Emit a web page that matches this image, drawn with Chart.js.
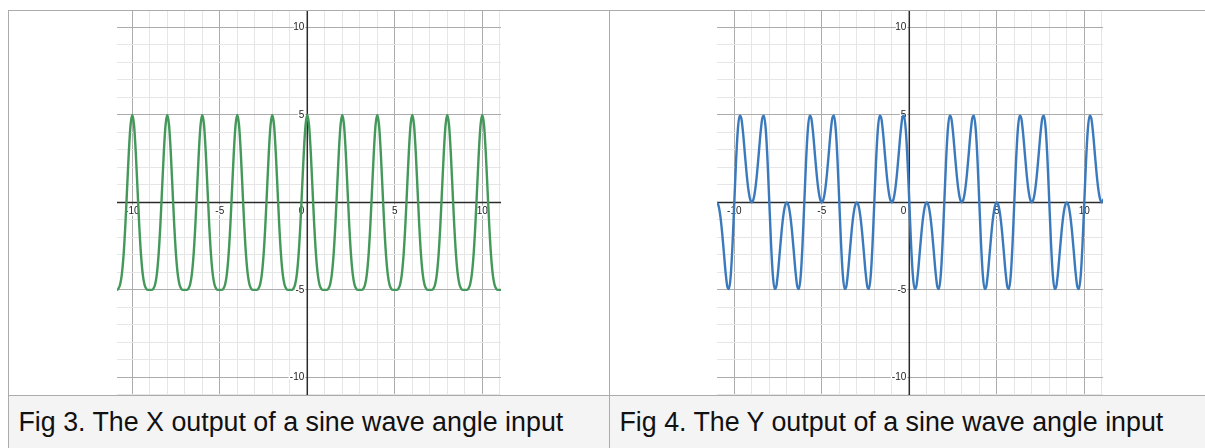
<!DOCTYPE html>
<html>
<head>
<meta charset="utf-8">
<script src="https://cdn.jsdelivr.net/npm/chart.js@4.4.1/dist/chart.umd.min.js"></script>
<style>
  html, body { margin: 0; padding: 0; background: #fff; }
  body { width: 1205px; height: 448px; position: relative; overflow: hidden; }
  .rule { position: absolute; background: #ababab; }
  .caption-bg { position: absolute; top: 396px; height: 52px; background: #f4f4f4; }
  .caption { position: absolute; top: 409px; font: 26.8px/1 "Liberation Sans", Arial, sans-serif; color: #111; white-space: nowrap; }
  canvas { position: absolute; top: 11px; }
</style>
</head>
<body>
<div class="caption-bg" style="left:9px;width:600px"></div>
<div class="caption-bg" style="left:610px;width:595px"></div>
<div class="rule" style="left:8px;top:10px;width:1197px;height:1px"></div>
<div class="rule" style="left:8px;top:395px;width:1197px;height:1px"></div>
<div class="rule" style="left:8px;top:10px;width:1px;height:438px"></div>
<div class="rule" style="left:609px;top:10px;width:1px;height:438px"></div>

<canvas id="figX" width="384" height="384" style="left:117px"></canvas>
<canvas id="figY" width="386" height="384" style="left:717px"></canvas>

<div class="caption" id="capX" style="left:18.5px"></div>
<div class="caption" id="capY" style="left:619.5px"></div>

<script>
// sample positions along the x axis (read every 0.1 unit)
const xValues = [
  -11,-10.9,-10.8,-10.7,-10.6,-10.5,-10.4,-10.3,-10.2,-10.1,
  -10,-9.9,-9.8,-9.7,-9.6,-9.5,-9.4,-9.3,-9.2,-9.1,
  -9,-8.9,-8.8,-8.7,-8.6,-8.5,-8.4,-8.3,-8.2,-8.1,
  -8,-7.9,-7.8,-7.7,-7.6,-7.5,-7.4,-7.3,-7.2,-7.1,
  -7,-6.9,-6.8,-6.7,-6.6,-6.5,-6.4,-6.3,-6.2,-6.1,
  -6,-5.9,-5.8,-5.7,-5.6,-5.5,-5.4,-5.3,-5.2,-5.1,
  -5,-4.9,-4.8,-4.7,-4.6,-4.5,-4.4,-4.3,-4.2,-4.1,
  -4,-3.9,-3.8,-3.7,-3.6,-3.5,-3.4,-3.3,-3.2,-3.1,
  -3,-2.9,-2.8,-2.7,-2.6,-2.5,-2.4,-2.3,-2.2,-2.1,
  -2,-1.9,-1.8,-1.7,-1.6,-1.5,-1.4,-1.3,-1.2,-1.1,
  -1,-0.9,-0.8,-0.7,-0.6,-0.5,-0.4,-0.3,-0.2,-0.1,
  0,0.1,0.2,0.3,0.4,0.5,0.6,0.7,0.8,0.9,
  1,1.1,1.2,1.3,1.4,1.5,1.6,1.7,1.8,1.9,
  2,2.1,2.2,2.3,2.4,2.5,2.6,2.7,2.8,2.9,
  3,3.1,3.2,3.3,3.4,3.5,3.6,3.7,3.8,3.9,
  4,4.1,4.2,4.3,4.4,4.5,4.6,4.7,4.8,4.9,
  5,5.1,5.2,5.3,5.4,5.5,5.6,5.7,5.8,5.9,
  6,6.1,6.2,6.3,6.4,6.5,6.6,6.7,6.8,6.9,
  7,7.1,7.2,7.3,7.4,7.5,7.6,7.7,7.8,7.9,
  8,8.1,8.2,8.3,8.4,8.5,8.6,8.7,8.8,8.9,
  9,9.1,9.2,9.3,9.4,9.5,9.6,9.7,9.8,9.9,
  10,10.1,10.2,10.3,10.4,10.5,10.6,10.7,10.8,10.9,
  11,11.1
];

// Fig 3 - X output (green)
const xOutput = [
  -5,-5,-4.94,-4.71,-4.13,-3.03,-1.36,0.72,2.83,4.41,
  5,4.41,2.83,0.72,-1.36,-3.03,-4.13,-4.71,-4.94,-5,
  -5,-5,-4.94,-4.71,-4.13,-3.03,-1.36,0.72,2.83,4.41,
  5,4.41,2.83,0.72,-1.36,-3.03,-4.13,-4.71,-4.94,-5,
  -5,-5,-4.94,-4.71,-4.13,-3.03,-1.36,0.72,2.83,4.41,
  5,4.41,2.83,0.72,-1.36,-3.03,-4.13,-4.71,-4.94,-5,
  -5,-5,-4.94,-4.71,-4.13,-3.03,-1.36,0.72,2.83,4.41,
  5,4.41,2.83,0.72,-1.36,-3.03,-4.13,-4.71,-4.94,-5,
  -5,-5,-4.94,-4.71,-4.13,-3.03,-1.36,0.72,2.83,4.41,
  5,4.41,2.83,0.72,-1.36,-3.03,-4.13,-4.71,-4.94,-5,
  -5,-5,-4.94,-4.71,-4.13,-3.03,-1.36,0.72,2.83,4.41,
  5,4.41,2.83,0.72,-1.36,-3.03,-4.13,-4.71,-4.94,-5,
  -5,-5,-4.94,-4.71,-4.13,-3.03,-1.36,0.72,2.83,4.41,
  5,4.41,2.83,0.72,-1.36,-3.03,-4.13,-4.71,-4.94,-5,
  -5,-5,-4.94,-4.71,-4.13,-3.03,-1.36,0.72,2.83,4.41,
  5,4.41,2.83,0.72,-1.36,-3.03,-4.13,-4.71,-4.94,-5,
  -5,-5,-4.94,-4.71,-4.13,-3.03,-1.36,0.72,2.83,4.41,
  5,4.41,2.83,0.72,-1.36,-3.03,-4.13,-4.71,-4.94,-5,
  -5,-5,-4.94,-4.71,-4.13,-3.03,-1.36,0.72,2.83,4.41,
  5,4.41,2.83,0.72,-1.36,-3.03,-4.13,-4.71,-4.94,-5,
  -5,-5,-4.94,-4.71,-4.13,-3.03,-1.36,0.72,2.83,4.41,
  5,4.41,2.83,0.72,-1.36,-3.03,-4.13,-4.71,-4.94,-5,
  -5,-5
];

// Fig 4 - Y output (blue)
const yOutput = [
  0,-0.19,-0.77,-1.68,-2.82,-3.98,-4.81,-4.95,-4.13,-2.36,
  0,2.36,4.13,4.95,4.81,3.98,2.82,1.68,0.77,0.19,
  0,0.19,0.77,1.68,2.82,3.98,4.81,4.95,4.13,2.36,
  0,-2.36,-4.13,-4.95,-4.81,-3.98,-2.82,-1.68,-0.77,-0.19,
  0,-0.19,-0.77,-1.68,-2.82,-3.98,-4.81,-4.95,-4.13,-2.36,
  0,2.36,4.13,4.95,4.81,3.98,2.82,1.68,0.77,0.19,
  0,0.19,0.77,1.68,2.82,3.98,4.81,4.95,4.13,2.36,
  0,-2.36,-4.13,-4.95,-4.81,-3.98,-2.82,-1.68,-0.77,-0.19,
  0,-0.19,-0.77,-1.68,-2.82,-3.98,-4.81,-4.95,-4.13,-2.36,
  0,2.36,4.13,4.95,4.81,3.98,2.82,1.68,0.77,0.19,
  0,0.19,0.77,1.68,2.82,3.98,4.81,4.95,4.13,2.36,
  0,-2.36,-4.13,-4.95,-4.81,-3.98,-2.82,-1.68,-0.77,-0.19,
  0,-0.19,-0.77,-1.68,-2.82,-3.98,-4.81,-4.95,-4.13,-2.36,
  0,2.36,4.13,4.95,4.81,3.98,2.82,1.68,0.77,0.19,
  0,0.19,0.77,1.68,2.82,3.98,4.81,4.95,4.13,2.36,
  0,-2.36,-4.13,-4.95,-4.81,-3.98,-2.82,-1.68,-0.77,-0.19,
  0,-0.19,-0.77,-1.68,-2.82,-3.98,-4.81,-4.95,-4.13,-2.36,
  0,2.36,4.13,4.95,4.81,3.98,2.82,1.68,0.77,0.19,
  0,0.19,0.77,1.68,2.82,3.98,4.81,4.95,4.13,2.36,
  0,-2.36,-4.13,-4.95,-4.81,-3.98,-2.82,-1.68,-0.77,-0.19,
  0,-0.19,-0.77,-1.68,-2.82,-3.98,-4.81,-4.95,-4.13,-2.36,
  0,2.36,4.13,4.95,4.81,3.98,2.82,1.68,0.77,0.19,
  0,0.19
];

const xTickLabels = [-10, -5, 5, 10];
const yTickLabels = [10, 5, -5, -10];
const captions = [
  "Fig 3. The X output of a sine wave angle input",
  "Fig 4. The Y output of a sine wave angle input"
];

document.getElementById("capX").textContent = captions[0];
document.getElementById("capY").textContent = captions[1];

// axis lines + numbers drawn next to the axes (desmos style)
const axesPlugin = {
  id: "axesAndNumbers",
  beforeDatasetsDraw(chart) {
    const { ctx, chartArea: area, scales: { x, y } } = chart;
    const x0 = x.getPixelForValue(0);
    const y0 = y.getPixelForValue(0);
    ctx.save();
    ctx.strokeStyle = "#2b2b2b";
    ctx.lineWidth = 1.5;
    ctx.beginPath();
    ctx.moveTo(area.left, y0);
    ctx.lineTo(area.right, y0);
    ctx.moveTo(x0, area.top);
    ctx.lineTo(x0, area.bottom);
    ctx.stroke();

    ctx.font = '10px "Liberation Sans", Arial, sans-serif';
    ctx.lineJoin = "round";
    ctx.lineWidth = 3;
    ctx.strokeStyle = "#fff";
    ctx.fillStyle = "#222";
    ctx.textBaseline = "middle";

    const label = (txt, px, py) => {
      ctx.strokeText(txt, px, py);
      ctx.fillText(txt, px, py);
    };

    ctx.textAlign = "center";
    xTickLabels.forEach(v => label(String(v), x.getPixelForValue(v), y0 + 8.5));
    ctx.textAlign = "right";
    label("0", x0 - 3, y0 + 8.5);
    yTickLabels.forEach(v => label(String(v), x0 - 3, y.getPixelForValue(v)));
    ctx.restore();
  }
};

const gridStyle = {
  drawTicks: false,
  lineWidth: 1,
  color: c => {
    const v = c.tick.value;
    if (v === 0) return "rgba(0,0,0,0)";
    return Math.abs(v) % 5 === 0 ? "#acacac" : "#e6e6e6";
  }
};

function makeGraph(id, values, color, xMin, xMax) {
  new Chart(document.getElementById(id), {
    type: "line",
    data: {
      datasets: [{
        data: xValues.map((x, i) => ({ x: x, y: values[i] })),
        borderColor: color,
        borderWidth: 2.4,
        pointRadius: 0,
        fill: false,
        cubicInterpolationMode: "monotone"
      }]
    },
    options: {
      responsive: false,
      animation: false,
      events: [],
      devicePixelRatio: 1,
      layout: { padding: 0 },
      plugins: { legend: { display: false }, tooltip: { enabled: false } },
      scales: {
        x: {
          type: "linear", min: xMin, max: xMax,
          ticks: { stepSize: 1, display: false, includeBounds: false },
          grid: gridStyle,
          border: { display: false }
        },
        y: {
          type: "linear", min: -11.006, max: 10.937,
          ticks: { stepSize: 1, display: false, includeBounds: false },
          grid: gridStyle,
          border: { display: false }
        }
      }
    },
    plugins: [axesPlugin]
  });
}

makeGraph("figX", xOutput, "#43985a", -10.874, 11.069);
makeGraph("figY", yOutput, "#3b79bd", -10.989, 11.069);
</script>
</body>
</html>
